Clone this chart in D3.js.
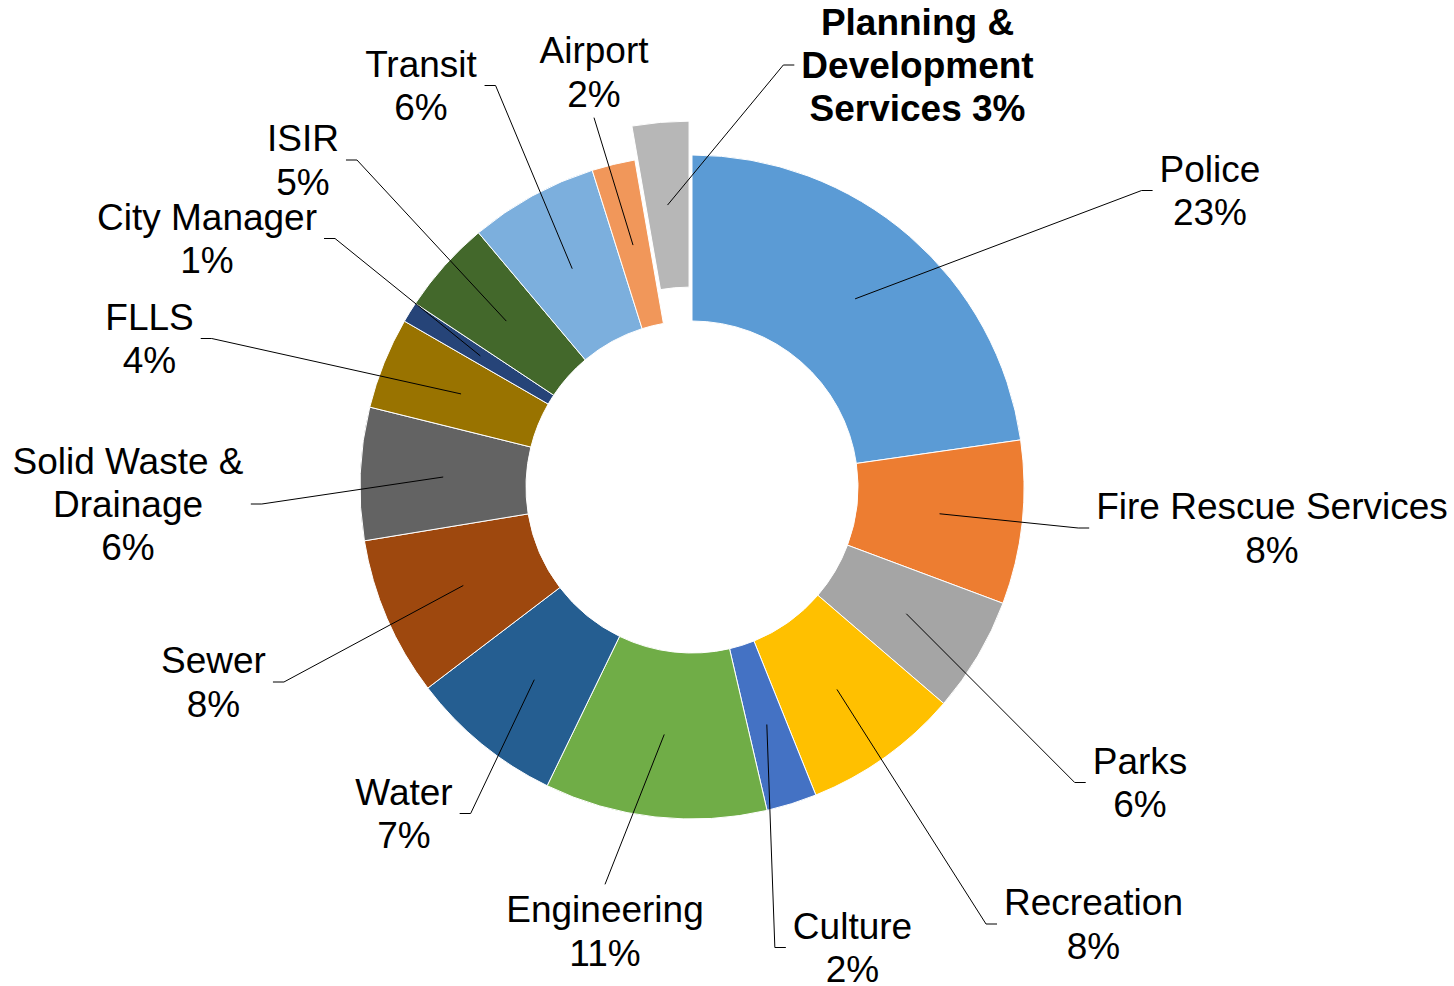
<!DOCTYPE html>
<html>
<head>
<meta charset="utf-8">
<script src="https://cdn.jsdelivr.net/npm/d3@7"></script>
<style>
  html, body { margin: 0; padding: 0; background: #fff; }
  svg { display: block; }
  text { font-family: "Liberation Sans", Arial, Helvetica, sans-serif; fill: #000; }
</style>
</head>
<body>
<svg id="chart" width="1454" height="986"></svg>
<script>
// ---- data ----
const categories = ["Police", "Fire Rescue Services", "Parks", "Recreation", "Culture", "Engineering",
  "Water", "Sewer", "Solid Waste & Drainage", "FLLS", "City Manager", "ISIR", "Transit", "Airport",
  "Planning & Development Services"];
const values = [22.7, 7.95, 5.6, 7.6, 2.45, 10.8, 7.45, 7.75, 6.45, 4.45, 1.0, 4.55, 6.25, 2.1, 2.75];
const labelLines = [["Police"], ["Fire Rescue Services"], ["Parks"], ["Recreation"], ["Culture"],
  ["Engineering"], ["Water"], ["Sewer"], ["Solid Waste &", "Drainage"], ["FLLS"], ["City Manager"],
  ["ISIR"], ["Transit"], ["Airport"], ["Planning &", "Development", "Services"]];
const colors = ["#5B9BD5", "#ED7D31", "#A5A5A5", "#FFC000", "#4472C4", "#70AD47", "#255E91",
  "#9E480E", "#636363", "#997300", "#264478", "#43682B", "#7CAFDD", "#F1975A", "#B7B7B7"];
const explodedCategory = "Planning & Development Services";

// ---- layout (label placement: centre x, block centre y, leader attach side) ----
const labelLayout = [
  [1210, 190.5, "left"], [1272, 528, "left"], [1140, 782.5, "left"], [1093.5, 924, "left"],
  [852.5, 947.5, "left"], [605, 931, "top"], [404, 813.5, "right"], [213.5, 682, "right"],
  [128, 504, "right"], [149.5, 338.5, "right"], [207, 238.5, "right"], [303, 160, "right"],
  [421, 85.5, "right"], [594, 72, "bottom"], [917.5, 65, "left"]
];

const W = 1454, H = 986, cx = 692, cy = 487, R = 332, R0 = 166, explode = 34;
const fontSize = 37, lineH = 43.3;

const svg = d3.select("#chart");
const total = d3.sum(values);
const pie = d3.pie().value(d => d.v).sort(null).startAngle(0).endAngle(2 * Math.PI);
const arc = d3.arc().innerRadius(R0).outerRadius(R);
const data = categories.map((c, i) => ({ c, v: values[i], i }));
const arcs = pie(data);

function offsetOf(a) {
  if (a.data.c !== explodedCategory) return [0, 0];
  const m = (a.startAngle + a.endAngle) / 2;
  return [Math.sin(m) * explode, -Math.cos(m) * explode];
}

const g = svg.append("g").attr("transform", `translate(${cx},${cy})`);
g.selectAll("path.slice").data(arcs).join("path")
  .attr("class", "slice")
  .attr("d", arc)
  .attr("transform", d => { const o = offsetOf(d); return `translate(${o[0]},${o[1]})`; })
  .attr("fill", d => colors[d.data.i])
  .attr("stroke", "#fff")
  .attr("stroke-width", 1);

const fmt = v => Math.round(v / total * 100) + "%";

const labelsG = svg.append("g");
const leadersG = svg.append("g");

arcs.forEach((a, i) => {
  const [lx, ly, side] = labelLayout[i];
  const lines = labelLines[i].slice();
  const pct = fmt(a.data.v);
  const bold = a.data.c === explodedCategory;
  if (bold) lines[lines.length - 1] += " " + pct; else lines.push(pct);
  const n = lines.length;
  const t = labelsG.append("text")
    .attr("text-anchor", "middle")
    .style("font-size", fontSize + "px")
    .style("font-weight", bold ? "bold" : "normal");
  lines.forEach((s, k) => {
    t.append("tspan").attr("x", lx).attr("y", ly + (k - (n - 1) / 2) * lineH + 13).text(s);
  });
  const bb = t.node().getBBox();
  const o = offsetOf(a);
  const c = arc.centroid(a);
  const start = [cx + c[0] + o[0], cy + c[1] + o[1]];
  let pts;
  if (side === "left") {
    const ex = bb.x - 7;
    pts = [start, [ex - 11, ly], [ex, ly]];
  } else if (side === "right") {
    const ex = bb.x + bb.width + 7;
    pts = [start, [ex + 11, ly], [ex, ly]];
  } else if (side === "top") {
    pts = [start, [lx, bb.y - 5]];
  } else {
    pts = [start, [lx, bb.y + bb.height + 3]];
  }
  leadersG.append("path")
    .attr("d", d3.line()(pts))
    .attr("fill", "none")
    .attr("stroke", "#000")
    .attr("stroke-width", 1);
});
</script>
</body>
</html>
